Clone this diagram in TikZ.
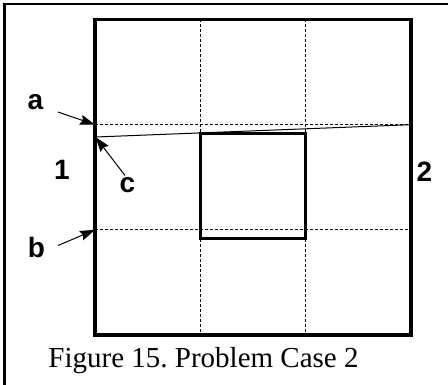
\documentclass[tikz,border=0pt]{standalone}
\usepackage{fontspec}
\setmainfont{Liberation Serif}
\newfontfamily\labelfont{Liberation Sans}
\usetikzlibrary{arrows.meta}

\tikzset{
  lbl/.style={inner sep=0pt,outer sep=0pt,font=\labelfont\bfseries\fontsize{28}{34}\selectfont},
  pointer/.style={->,line width=1pt},
  gridline/.style={line width=0.8pt,dash pattern=on 3pt off 2pt},
  box/.style={line width=3.2pt}
}

\begin{document}
\begin{tikzpicture}[x=1pt,y=-1pt,>={Stealth[length=15pt,width=10pt,inset=2pt]},line cap=butt]
\useasboundingbox (0,0) rectangle (448,385);
\draw[line width=2.4pt] (4.5,395) |- (460,4);
% cells of the square
\draw[gridline] (200.3,19.5) -- (200.3,335);
\draw[gridline] (305.7,19.5) -- (305.7,335);
\draw[gridline] (95,124.7) -- (411,124.7);
\draw[gridline] (95,229.8) -- (411,229.8);
\draw[box] (95,19.5) rectangle (411,335);
\draw[box] (200.3,133.3) rectangle (305.7,238.3);
\coordinate (tipa) at (95,124.7);
\coordinate (tipb) at (95,229.8);
\coordinate (tipc) at (95.5,137);
\coordinate (endc) at (411,124.7);
\draw[line width=1pt] (tipc) -- (endc);
% labels
\node[lbl] (lbla) at (35.5,102) {a};
\node[lbl] (lblb) at (36.5,247.5) {b};
\node[lbl] (lblc) at (127.5,185) {c};
\node[lbl] (lblone) at (62,170) {1};
\node[lbl] (lbltwo) at (424.5,171.5) {2};
\coordinate (taila) at (58,112);
\coordinate (tailb) at (58,245.5);
\coordinate (tailc) at (125,175.5);
\draw[pointer] (taila) -- (tipa);
\draw[pointer] (tailb) -- (tipb);
\draw[pointer] (tailc) -- (tipc);
\node[anchor=base,inner sep=0pt,font=\fontsize{29}{34}\selectfont] (caption) at (203.5,367) {Figure 15.\ Problem Case 2};
\end{tikzpicture}
\end{document}
